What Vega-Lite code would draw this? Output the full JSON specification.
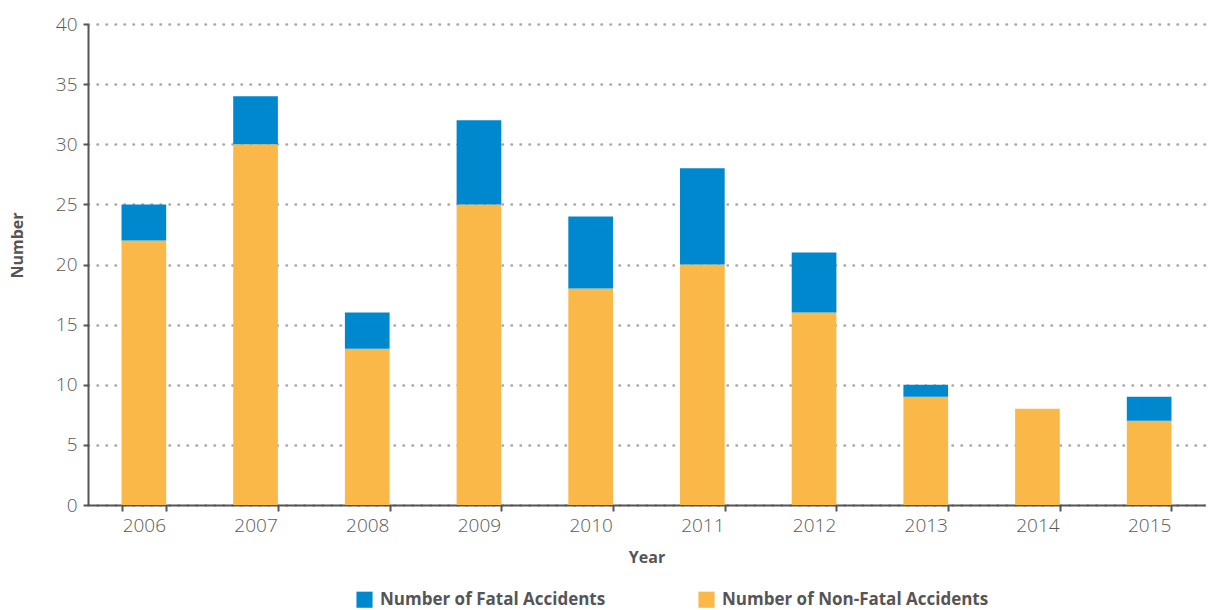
{
  "$schema": "https://vega.github.io/schema/vega-lite/v6.json",
  "width": 1117,
  "height": 481,
  "autosize": {"type": "none"},
  "padding": {"left": 88, "top": 24, "right": 7, "bottom": 105},
  "background": "white",
  "config": {
    "view": {"stroke": null},
    "font": "Open Sans"
  },
  "data": {
    "values": [
      {"year": "2006", "type": "Number of Non-Fatal Accidents", "value": 22, "ord": 1},
      {"year": "2006", "type": "Number of Fatal Accidents", "value": 3, "ord": 2},
      {"year": "2007", "type": "Number of Non-Fatal Accidents", "value": 30, "ord": 1},
      {"year": "2007", "type": "Number of Fatal Accidents", "value": 4, "ord": 2},
      {"year": "2008", "type": "Number of Non-Fatal Accidents", "value": 13, "ord": 1},
      {"year": "2008", "type": "Number of Fatal Accidents", "value": 3, "ord": 2},
      {"year": "2009", "type": "Number of Non-Fatal Accidents", "value": 25, "ord": 1},
      {"year": "2009", "type": "Number of Fatal Accidents", "value": 7, "ord": 2},
      {"year": "2010", "type": "Number of Non-Fatal Accidents", "value": 18, "ord": 1},
      {"year": "2010", "type": "Number of Fatal Accidents", "value": 6, "ord": 2},
      {"year": "2011", "type": "Number of Non-Fatal Accidents", "value": 20, "ord": 1},
      {"year": "2011", "type": "Number of Fatal Accidents", "value": 8, "ord": 2},
      {"year": "2012", "type": "Number of Non-Fatal Accidents", "value": 16, "ord": 1},
      {"year": "2012", "type": "Number of Fatal Accidents", "value": 5, "ord": 2},
      {"year": "2013", "type": "Number of Non-Fatal Accidents", "value": 9, "ord": 1},
      {"year": "2013", "type": "Number of Fatal Accidents", "value": 1, "ord": 2},
      {"year": "2014", "type": "Number of Non-Fatal Accidents", "value": 8, "ord": 1},
      {"year": "2014", "type": "Number of Fatal Accidents", "value": 0, "ord": 2},
      {"year": "2015", "type": "Number of Non-Fatal Accidents", "value": 7, "ord": 1},
      {"year": "2015", "type": "Number of Fatal Accidents", "value": 2, "ord": 2}
    ]
  },
  "mark": {"type": "bar"},
  "encoding": {
    "x": {
      "field": "year",
      "type": "nominal",
      "scale": {"paddingInner": 0.6, "paddingOuter": 0.3},
      "axis": {
        "title": "Year",
        "titleFontSize": 16,
        "titleFontWeight": "bold",
        "titleColor": "#555555",
        "titlePadding": 14,
        "labelAngle": 0,
        "labelFontSize": 19,
        "labelFontWeight": 300,
        "labelColor": "#5a5a5a",
        "labelPadding": 5,
        "tickBand": "extent",
        "tickColor": "#555555",
        "tickSize": 6,
        "tickWidth": 2,
        "domainColor": "#555555",
        "domainWidth": 2,
        "grid": false
      }
    },
    "y": {
      "field": "value",
      "type": "quantitative",
      "stack": "zero",
      "scale": {"domain": [0, 40], "nice": false},
      "axis": {
        "title": "Number",
        "titleFontSize": 16,
        "titleFontWeight": "bold",
        "titleColor": "#555555",
        "titlePadding": 30,
        "titleY": 221,
        "values": [0, 5, 10, 15, 20, 25, 30, 35, 40],
        "labelFontSize": 19,
        "labelFontWeight": 300,
        "labelColor": "#5a5a5a",
        "labelPadding": 6,
        "tickColor": "#555555",
        "tickSize": 5,
        "tickWidth": 2,
        "domainColor": "#555555",
        "domainWidth": 2,
        "grid": true,
        "gridColor": "#a8a8a8",
        "gridWidth": 2.5,
        "gridDash": [0.5, 8.5],
        "gridCap": "round"
      }
    },
    "color": {
      "field": "type",
      "type": "nominal",
      "scale": {
        "domain": ["Number of Fatal Accidents", "Number of Non-Fatal Accidents"],
        "range": ["#0088cf", "#f9b848"]
      },
      "legend": {
        "title": null,
        "orient": "none",
        "direction": "horizontal",
        "legendX": 268,
        "legendY": 567,
        "symbolType": "square",
        "symbolSize": 260,
        "symbolStrokeWidth": 0,
        "symbolOpacity": 1,
        "labelFontSize": 17,
        "labelFontWeight": "bold",
        "labelColor": "#555555",
        "labelOffset": 7,
        "labelLimit": 0,
        "columnPadding": 92
      }
    },
    "order": {"field": "ord", "type": "quantitative"}
  }
}
